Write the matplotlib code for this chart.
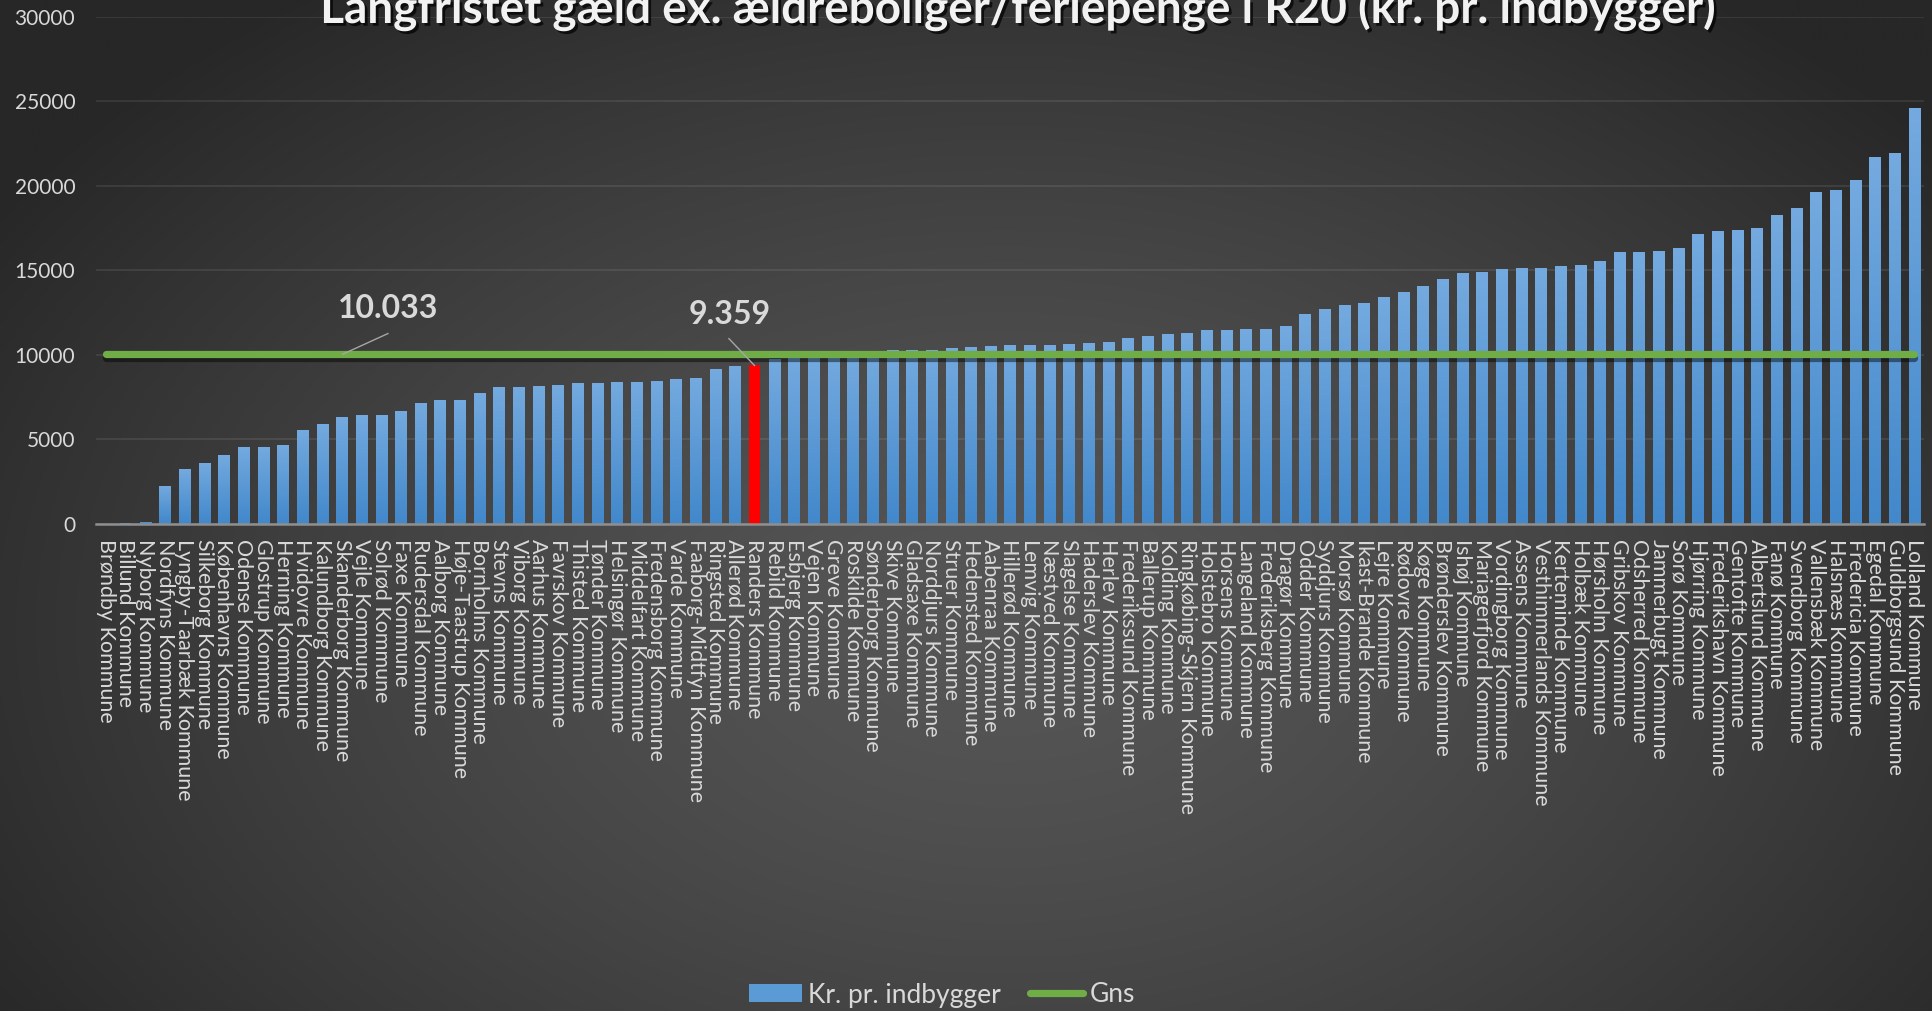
import numpy as np
import matplotlib
matplotlib.use("Agg")
import matplotlib.pyplot as plt
from matplotlib import patheffects as pe
from matplotlib.lines import Line2D
from matplotlib.patches import Patch
from matplotlib.colors import LinearSegmentedColormap

# ---------------- data ----------------
title = "Langfristet gæld ex. ældreboliger/feriepenge i R20 (kr. pr. indbygger)"
kommuner = [
    "Brøndby Kommune", "Billund Kommune", "Nyborg Kommune", "Nordfyns Kommune", "Lyngby-Taarbæk Kommune",
    "Silkeborg Kommune", "Københavns Kommune", "Odense Kommune", "Glostrup Kommune", "Herning Kommune",
    "Hvidovre Kommune", "Kalundborg Kommune", "Skanderborg Kommune", "Vejle Kommune", "Solrød Kommune",
    "Faxe Kommune", "Rudersdal Kommune", "Aalborg Kommune", "Høje-Taastrup Kommune", "Bornholms Kommune",
    "Stevns Kommune", "Viborg Kommune", "Aarhus Kommune", "Favrskov Kommune", "Thisted Kommune",
    "Tønder Kommune", "Helsingør Kommune", "Middelfart Kommune", "Fredensborg Kommune", "Varde Kommune",
    "Faaborg-Midtfyn Kommune", "Ringsted Kommune", "Allerød Kommune", "Randers Kommune", "Rebild Kommune",
    "Esbjerg Kommune", "Vejen Kommune", "Greve Kommune", "Roskilde Kommune", "Sønderborg Kommune",
    "Skive Kommune", "Gladsaxe Kommune", "Norddjurs Kommune", "Struer Kommune", "Hedensted Kommune",
    "Aabenraa Kommune", "Hillerød Kommune", "Lemvig Kommune", "Næstved Kommune", "Slagelse Kommune",
    "Haderslev Kommune", "Herlev Kommune", "Frederikssund Kommune", "Ballerup Kommune", "Kolding Kommune",
    "Ringkøbing-Skjern Kommune", "Holstebro Kommune", "Horsens Kommune", "Langeland Kommune", "Frederiksberg Kommune",
    "Dragør Kommune", "Odder Kommune", "Syddjurs Kommune", "Morsø Kommune", "Ikast-Brande Kommune",
    "Lejre Kommune", "Rødovre Kommune", "Køge Kommune", "Brønderslev Kommune", "Ishøj Kommune",
    "Mariagerfjord Kommune", "Vordingborg Kommune", "Assens Kommune", "Vesthimmerlands Kommune", "Kerteminde Kommune",
    "Holbæk Kommune", "Hørsholm Kommune", "Gribskov Kommune", "Odsherred Kommune", "Jammerbugt Kommune",
    "Sorø Kommune", "Hjørring Kommune", "Frederikshavn Kommune", "Gentofte Kommune", "Albertslund Kommune",
    "Fanø Kommune", "Svendborg Kommune", "Vallensbæk Kommune", "Halsnæs Kommune", "Fredericia Kommune",
    "Egedal Kommune", "Guldborgsund Kommune", "Lolland Kommune",
]
kr_pr_indbygger = [
    0, 50, 80, 2215, 3225,
    3580, 4055, 4530, 4530, 4650,
    5540, 5900, 6310, 6430, 6430,
    6670, 7145, 7320, 7320, 7740,
    8095, 8095, 8155, 8215, 8330,
    8330, 8390, 8390, 8450, 8570,
    8630, 9160, 9330, 9359, 9760,
    9820, 9900, 9950, 10050, 10150,
    10290, 10290, 10290, 10410, 10470,
    10530, 10590, 10590, 10590, 10650,
    10710, 10770, 11005, 11125, 11240,
    11300, 11460, 11480, 11510, 11530,
    11725, 12385, 12690, 12940, 13045,
    13400, 13705, 14060, 14470, 14820,
    14870, 15050, 15130, 15130, 15250,
    15300, 15550, 16070, 16070, 16150,
    16310, 17160, 17320, 17370, 17510,
    18270, 18680, 19630, 19740, 20340,
    21700, 21950, 24620,
]
gns = 10033
highlight = "Randers Kommune"
yticks = [0, 5000, 10000, 15000, 20000, 25000, 30000]
legend_labels = ["Kr. pr. indbygger", "Gns"]

# ---------------- styling ----------------
FONT = "Lato"
TXT = "#d9d9d9"
BLUE_TOP = "#74aadf"
BLUE_BOT = "#4288cb"
GREEN = "#70ad47"
RED = "#ff0000"

W, H = 1933, 1011
fig = plt.figure(figsize=(W / 100, H / 100), dpi=100)

# background radial gradient
bg = fig.add_axes([0, 0, 1, 1], zorder=-10)
yy, xx = np.mgrid[0:1:300j, 0:1:580j]
r = np.sqrt(((xx - 0.52) / 0.62) ** 2 + ((yy - 0.62) / 0.78) ** 2)
t = np.clip(r, 0, 1) ** 1.4
c_center = np.array([0x56, 0x56, 0x56]) / 255
c_edge = np.array([0x27, 0x27, 0x27]) / 255
img = c_center + (c_edge - c_center) * t[..., None]
bg.imshow(img, extent=[0, 1, 0, 1], aspect="auto", origin="upper", interpolation="bilinear")
bg.set_axis_off()

left, right = 96 / W, 1924 / W
bottom, top = 1 - 523.5 / H, 1 - 17 / H
ax = fig.add_axes([left, bottom, right - left, top - bottom])
ax.set_facecolor("none")

n = len(kommuner)
x = np.arange(n)
colors = [RED if k == highlight else BLUE_BOT for k in kommuner]
bars = ax.bar(x, kr_pr_indbygger, width=0.56, color=colors, zorder=2, linewidth=0)

ax.set_xlim(-0.5, n - 0.5)
ax.set_ylim(0, 30000)

# gradient fill of the blue bars
cmap = LinearSegmentedColormap.from_list("bluegrad", [BLUE_TOP, BLUE_BOT])
grad = np.linspace(0, 1, 128)[:, None]
for b, k in zip(bars, kommuner):
    if k == highlight or b.get_height() <= 0:
        continue
    x0, w, h = b.get_x(), b.get_width(), b.get_height()
    im = ax.imshow(grad, cmap=cmap, extent=[x0, x0 + w, 0, h], aspect="auto",
                   origin="upper", zorder=2.1, interpolation="bilinear")
    im.set_clip_path(b)
ax.set_xlim(-0.5, n - 0.5)
ax.set_ylim(0, 30000)
ax.set_aspect("auto")

# average line
ax.plot(x, [gns] * n, color=GREEN, lw=5.2, solid_capstyle="round", zorder=4,
        path_effects=[pe.SimpleLineShadow(offset=(0, -2.5), shadow_color="black", alpha=0.45),
                      pe.Normal()])

# grid & axes
ax.set_yticks(yticks)
ax.yaxis.grid(True, color="white", alpha=0.09, lw=1.3, zorder=0)
ax.set_axisbelow(True)
for s in ["left", "right", "top"]:
    ax.spines[s].set_visible(False)
ax.spines["bottom"].set_color("#8f8f8f")
ax.spines["bottom"].set_linewidth(1.8)
ax.spines["bottom"].set_zorder(5)

ax.set_xticks(x)
ax.set_xticklabels(kommuner, rotation=270, fontsize=15.5, color=TXT, family=FONT)
ax.tick_params(axis="x", length=0, pad=11)
ax.tick_params(axis="y", length=0, pad=15, labelsize=15, labelcolor=TXT)
for lab in ax.get_yticklabels():
    lab.set_family(FONT)

# data labels with leader lines
ax.plot([14.35, 12.06], [11250, gns], color="#a6a6a6", lw=1.0, zorder=5)
ax.text(14.35, 12750, "10.033", ha="center", va="center", fontsize=23, weight="bold",
        color=TXT, family=FONT, zorder=6)
ridx = kommuner.index(highlight)
ax.plot([31.7, ridx], [10950, kr_pr_indbygger[ridx]], color="#a6a6a6", lw=1.0, zorder=5)
ax.text(31.76, 12350, "9.359", ha="center", va="center", fontsize=23, weight="bold",
        color=TXT, family=FONT, zorder=6)

# title (partly above the top edge, as in the original)
fig.text(1019 / W, 1 - 23 / H, title, ha="center", va="baseline", fontsize=33,
         weight="bold", color="#f2f2f2", family=FONT,
         path_effects=[pe.SimplePatchShadow(offset=(2, -2), shadow_rgbFace="black", alpha=0.7),
                       pe.Normal()])

# legend
handles = [Patch(facecolor="#5b9bd5", edgecolor="none"),
           Line2D([0], [0], color=GREEN, lw=5.2, solid_capstyle="round")]
leg = fig.legend(handles, legend_labels, loc="center", bbox_to_anchor=(942 / W, 1 - 995 / H),
                 ncol=2, frameon=False, handlelength=2.0, handleheight=0.68,
                 handletextpad=0.25, columnspacing=1.1, prop={"family": FONT, "size": 19})
for t_ in leg.get_texts():
    t_.set_color(TXT)

fig.savefig("out.png", dpi=100)
